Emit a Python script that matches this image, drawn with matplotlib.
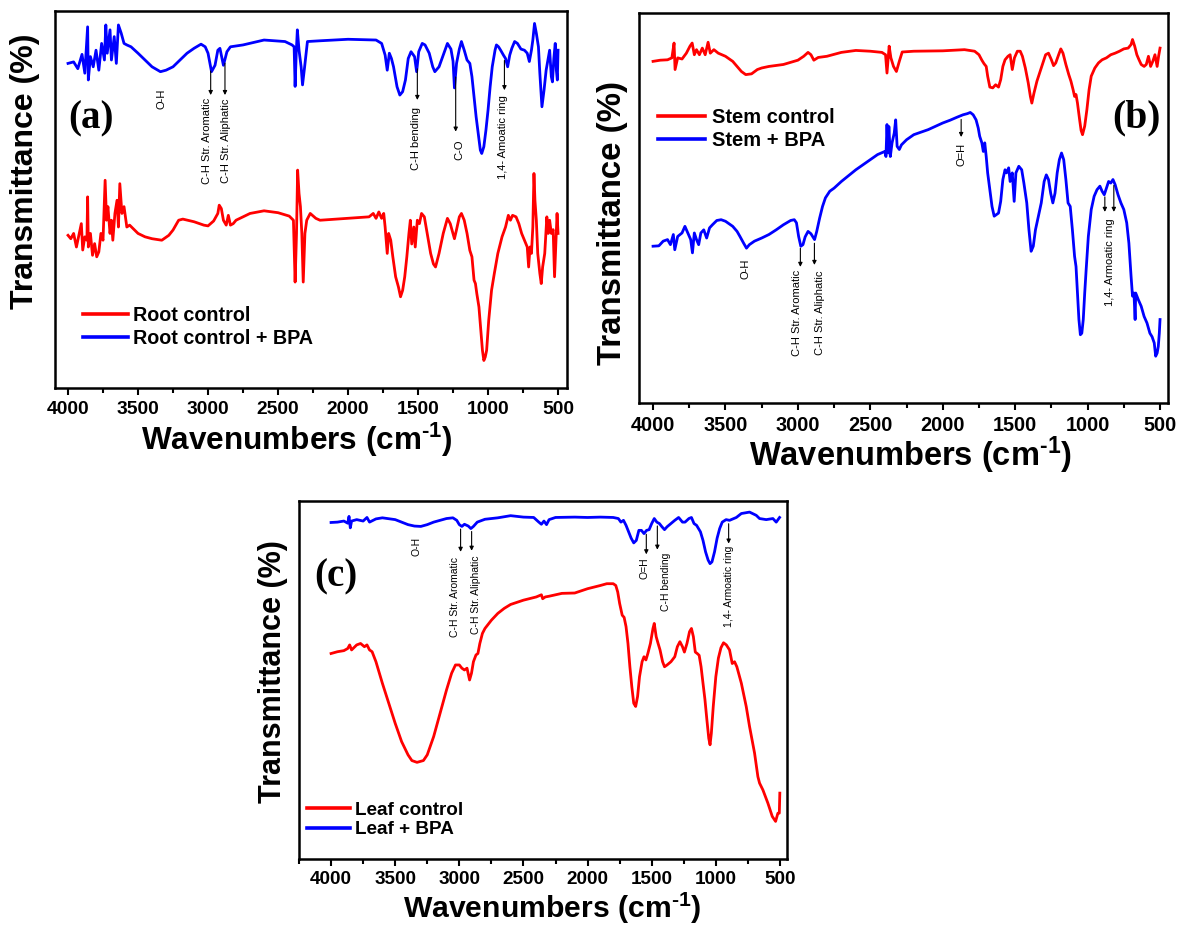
import numpy as np
import matplotlib
matplotlib.use("Agg")
import matplotlib.pyplot as plt
from matplotlib.ticker import MultipleLocator

plt.rcParams['font.family'] = ['Liberation Sans', 'DejaVu Sans']
plt.rcParams['mathtext.fontset'] = 'custom'
plt.rcParams['mathtext.rm'] = 'Liberation Sans:bold'
plt.rcParams['mathtext.it'] = 'Liberation Sans:bold'
plt.rcParams['mathtext.bf'] = 'Liberation Sans:bold'
plt.rcParams['mathtext.default'] = 'regular'

# ---------------- DATA (wavenumber cm-1, relative transmittance) ----------------
# (a) Root
root_bpa_wn = [4000, 3960, 3930, 3900, 3880, 3870, 3860, 3855, 3840, 3820, 3800, 3780, 3760, 3740,
               3730, 3720, 3700, 3690, 3670, 3655, 3640, 3620, 3600, 3580, 3550, 3500, 3450, 3400,
               3340, 3300, 3250, 3200, 3150, 3100, 3050, 3020, 3000, 2975, 2950, 2930, 2915, 2890,
               2865, 2840, 2750, 2600, 2450, 2400, 2385, 2378, 2370, 2362, 2350, 2335, 2325, 2310,
               2290, 2200, 2000, 1800, 1760, 1735, 1720, 1705, 1690, 1675, 1650, 1630, 1610, 1590,
               1570, 1550, 1525, 1510, 1495, 1470, 1450, 1420, 1395, 1380, 1350, 1320, 1290, 1265,
               1250, 1240, 1225, 1205, 1190, 1170, 1150, 1130, 1115, 1100, 1085, 1070, 1055, 1045,
               1030, 1015, 1000, 985, 970, 950, 940, 925, 910, 890, 875, 860, 845, 830, 810, 790,
               765, 740, 720, 705, 690, 680, 668, 655, 640, 630, 615, 600, 585, 570, 560, 548, 540,
               530, 520, 512, 505, 500]
root_bpa_T = [86.1, 86.5, 84.7, 88.5, 83.5, 89.6, 95.8, 81.7, 87.9, 85.2, 89.6, 84.3, 91.4, 87.0,
              96.3, 88.8, 95.0, 87.0, 93.2, 86.1, 96.3, 94.1, 91.4, 91.0, 90.5, 88.8, 87.0, 85.2,
              83.9, 84.3, 85.2, 87.0, 88.8, 90.1, 91.2, 90.5, 88.8, 83.9, 85.6, 89.6, 90.1, 85.6,
              89.2, 90.5, 91.0, 92.3, 91.9, 91.0, 90.5, 80.0, 88.8, 95.0, 89.6, 85.2, 80.4, 85.2,
              91.9, 92.1, 92.5, 92.3, 91.4, 88.3, 84.3, 88.8, 87.4, 85.2, 79.9, 77.7, 78.6, 81.7,
              87.4, 89.2, 87.9, 83.9, 89.2, 91.4, 91.0, 88.8, 85.2, 83.9, 85.2, 88.3, 91.4, 89.9,
              86.7, 79.6, 86.1, 89.9, 91.9, 89.6, 87.0, 86.1, 82.6, 77.3, 71.9, 67.5, 63.1, 62.2,
              64.0, 68.4, 73.7, 79.9, 85.2, 89.6, 91.0, 90.5, 89.6, 88.3, 87.4, 85.2, 88.3, 90.1,
              91.9, 91.4, 89.9, 89.6, 88.8, 86.6, 89.6, 92.3, 96.7, 94.1, 90.5, 83.5, 74.6, 79.0,
              84.3, 87.4, 89.6, 82.6, 81.2, 87.4, 91.4, 84.3, 81.7, 89.6]

root_ctrl_wn = [4000, 3980, 3960, 3940, 3920, 3905, 3895, 3880, 3865, 3860, 3855, 3840, 3825, 3810,
                3795, 3780, 3765, 3750, 3735, 3725, 3715, 3700, 3690, 3680, 3665, 3650, 3640, 3630,
                3615, 3600, 3580, 3560, 3500, 3450, 3400, 3330, 3280, 3250, 3210, 3180, 3100, 3030,
                3000, 2960, 2930, 2920, 2905, 2890, 2870, 2855, 2840, 2820, 2800, 2700, 2600, 2500,
                2420, 2390, 2378, 2368, 2360, 2350, 2340, 2330, 2320, 2308, 2295, 2270, 2230, 2200,
                2000, 1850, 1820, 1800, 1780, 1760, 1745, 1735, 1720, 1710, 1695, 1680, 1660, 1640,
                1625, 1610, 1595, 1580, 1565, 1555, 1545, 1530, 1520, 1505, 1490, 1475, 1455, 1430,
                1410, 1390, 1375, 1350, 1320, 1290, 1270, 1250, 1240, 1225, 1205, 1190, 1170, 1150,
                1130, 1115, 1100, 1090, 1080, 1065, 1050, 1040, 1030, 1020, 1010, 995, 975, 955, 930,
                900, 875, 855, 840, 825, 800, 780, 760, 740, 720, 710, 700, 690, 680, 672, 665, 655,
                645, 630, 620, 610, 595, 580, 570, 560, 548, 535, 525, 515, 507, 500]
root_ctrl_T = [40.5, 39.6, 41.0, 37.4, 41.0, 43.6, 36.6, 40.1, 39.2, 50.7, 37.4, 41.0, 35.2, 38.3,
               34.8, 36.1, 41.0, 39.2, 55.1, 44.5, 48.1, 41.0, 44.5, 39.2, 46.3, 49.8, 42.7, 54.2,
               46.3, 48.1, 42.7, 43.2, 41.0, 40.1, 39.6, 39.2, 40.5, 41.9, 44.5, 44.8, 44.1, 43.2,
               43.0, 44.3, 46.3, 48.5, 47.6, 44.5, 43.2, 45.8, 43.2, 43.6, 44.5, 46.3, 47.0, 46.5,
               45.6, 44.5, 28.1, 41.0, 57.8, 51.6, 48.1, 41.0, 28.1, 41.0, 44.5, 46.3, 45.0, 44.5,
               45.0, 45.4, 46.3, 45.0, 46.7, 45.0, 46.3, 42.7, 35.7, 41.0, 39.2, 34.8, 29.5, 26.8,
               24.2, 25.9, 29.5, 34.8, 41.0, 44.5, 38.2, 42.7, 37.4, 44.5, 43.6, 46.3, 45.4, 40.1,
               35.7, 32.9, 32.1, 35.7, 41.0, 45.0, 43.6, 41.0, 39.6, 42.0, 45.4, 46.3, 44.5, 41.0,
               36.5, 34.8, 28.6, 27.7, 25.0, 21.5, 14.4, 10.0, 7.3, 8.2, 10.0, 18.0, 25.9, 30.4, 35.7,
               40.1, 42.7, 45.8, 44.5, 45.8, 45.4, 43.6, 41.0, 39.2, 37.4, 32.1, 37.4, 35.7, 42.7,
               56.9, 49.8, 44.5, 35.7, 30.4, 27.7, 32.1, 35.7, 45.4, 41.0, 44.5, 41.0, 42.0, 29.5,
               39.2, 46.3, 41.0]

# (b) Stem
stem_ctrl_wn = [4000, 3950, 3900, 3870, 3855, 3848, 3830, 3800, 3770, 3745, 3730, 3715, 3700, 3680,
                3660, 3640, 3620, 3605, 3580, 3550, 3500, 3450, 3420, 3390, 3360, 3320, 3280, 3250,
                3200, 3100, 3000, 2960, 2930, 2910, 2890, 2860, 2800, 2700, 2600, 2500, 2420, 2395,
                2385, 2370, 2358, 2340, 2320, 2300, 2280, 2200, 2000, 1850, 1780, 1750, 1730, 1715,
                1700, 1690, 1675, 1655, 1635, 1615, 1600, 1585, 1570, 1550, 1535, 1520, 1505, 1485,
                1465, 1450, 1430, 1410, 1395, 1385, 1370, 1350, 1320, 1290, 1270, 1250, 1235, 1220,
                1200, 1185, 1170, 1150, 1130, 1115, 1100, 1090, 1080, 1070, 1055, 1045, 1035, 1020,
                1005, 990, 975, 950, 925, 900, 870, 840, 810, 780, 750, 720, 700, 690, 675, 660, 645,
                630, 610, 595, 580, 565, 550, 535, 520, 510, 500]
stem_ctrl_T = [87.6, 87.9, 88.0, 88.5, 92.3, 85.5, 88.5, 88.2, 89.7, 91.5, 92.3, 89.3, 90.6, 89.3,
               91.0, 89.3, 92.5, 89.7, 90.6, 89.7, 88.9, 87.6, 86.3, 85.0, 84.2, 84.4, 85.5, 85.9,
               86.3, 86.8, 87.9, 88.9, 89.9, 89.3, 87.9, 88.6, 88.9, 89.9, 90.4, 90.2, 89.9, 89.3,
               84.6, 91.5, 88.5, 86.3, 85.0, 87.6, 90.0, 90.2, 90.3, 90.6, 90.2, 89.3, 87.9, 87.0,
               86.3, 83.8, 81.0, 80.8, 81.6, 81.0, 82.9, 86.3, 88.0, 88.9, 89.3, 85.5, 88.5, 90.2,
               90.2, 88.9, 85.9, 82.1, 78.6, 76.9, 79.5, 82.5, 85.9, 89.3, 89.7, 88.0, 86.5, 87.2,
               89.3, 90.8, 89.7, 86.8, 84.2, 82.5, 80.3, 78.6, 79.1, 76.9, 72.6, 69.9, 68.8, 71.0,
               75.2, 80.3, 83.8, 85.9, 87.2, 88.0, 88.5, 89.3, 89.7, 90.2, 90.8, 91.0, 91.9, 93.2,
               91.5, 89.3, 88.0, 86.8, 86.3, 86.8, 88.9, 86.3, 87.6, 89.3, 86.3, 88.9, 91.0]

stem_bpa_wn = [4000, 3960, 3930, 3900, 3880, 3860, 3850, 3830, 3800, 3780, 3760, 3740, 3728, 3715,
               3700, 3685, 3670, 3650, 3630, 3610, 3590, 3560, 3530, 3500, 3450, 3420, 3400, 3375,
               3355, 3335, 3300, 3250, 3200, 3150, 3100, 3050, 3025, 3010, 2995, 2980, 2965, 2950,
               2930, 2910, 2885, 2870, 2850, 2830, 2810, 2780, 2750, 2700, 2650, 2600, 2550, 2500,
               2450, 2400, 2392, 2385, 2378, 2372, 2362, 2350, 2335, 2325, 2315, 2300, 2285, 2250,
               2200, 2100, 2000, 1950, 1900, 1860, 1830, 1810, 1790, 1770, 1755, 1745, 1730, 1720,
               1710, 1700, 1690, 1675, 1660, 1645, 1630, 1615, 1600, 1585, 1570, 1560, 1545, 1535,
               1520, 1507, 1495, 1475, 1455, 1440, 1420, 1405, 1390, 1375, 1360, 1340, 1320, 1300,
               1285, 1270, 1255, 1240, 1225, 1210, 1195, 1180, 1165, 1150, 1135, 1120, 1105, 1090,
               1080, 1070, 1060, 1050, 1040, 1030, 1020, 1010, 995, 975, 955, 935, 915, 900, 885,
               870, 855, 840, 825, 810, 790, 770, 750, 730, 715, 700, 690, 680, 672, 668, 650, 630,
               610, 590, 570, 555, 540, 530, 520, 512, 505, 500]
stem_bpa_T = [40.2, 40.3, 41.5, 41.9, 40.6, 43.2, 39.3, 42.7, 43.6, 45.3, 43.6, 41.9, 38.5, 43.6,
              41.9, 40.6, 43.6, 44.4, 42.3, 44.9, 45.7, 46.8, 47.0, 46.6, 45.3, 44.0, 42.7, 41.0,
              39.7, 40.6, 41.5, 42.3, 43.2, 44.4, 45.7, 46.8, 47.0, 46.2, 42.7, 40.2, 40.6, 42.6,
              44.0, 43.4, 41.9, 44.0, 47.4, 50.4, 52.6, 54.3, 55.1, 56.8, 58.3, 59.8, 61.1, 62.4,
              63.7, 64.5, 63.2, 71.4, 64.1, 70.9, 63.2, 66.7, 69.2, 72.6, 65.8, 65.0, 66.2, 67.5,
              68.8, 70.1, 71.8, 72.5, 73.3, 73.9, 74.2, 74.5, 73.9, 72.6, 70.5, 68.4, 66.7, 64.5,
              66.7, 63.2, 59.0, 54.7, 50.4, 47.9, 48.3, 48.7, 51.7, 57.3, 59.8, 59.0, 60.3, 56.8,
              59.0, 51.7, 59.0, 60.7, 59.8, 56.4, 51.3, 44.4, 38.9, 40.2, 44.4, 47.9, 51.3, 56.8,
              58.5, 57.3, 53.8, 51.3, 53.8, 59.0, 62.4, 64.1, 62.4, 57.3, 51.3, 50.4, 44.4, 37.6,
              35.0, 28.2, 21.4, 17.5, 17.9, 21.4, 28.2, 34.2, 42.7, 49.6, 53.0, 54.7, 55.6, 54.3,
              53.4, 55.1, 56.8, 56.4, 57.3, 56.0, 53.4, 51.3, 49.6, 46.2, 41.0, 32.5, 27.4, 28.2,
              21.4, 28.2, 26.5, 24.8, 22.2, 20.5, 17.9, 17.0, 15.4, 12.0, 12.8, 14.5, 17.9, 21.4]

# (c) Leaf
leaf_bpa_wn = [4000, 3950, 3900, 3870, 3860, 3850, 3840, 3800, 3750, 3720, 3700, 3650, 3600, 3500,
               3450, 3400, 3350, 3300, 3250, 3200, 3100, 3050, 3020, 3000, 2980, 2960, 2930, 2910,
               2890, 2860, 2800, 2700, 2600, 2500, 2420, 2380, 2360, 2340, 2320, 2300, 2250, 2100,
               2000, 1900, 1800, 1760, 1740, 1720, 1700, 1680, 1660, 1640, 1620, 1600, 1580, 1560,
               1540, 1520, 1500, 1480, 1460, 1440, 1420, 1400, 1380, 1350, 1320, 1290, 1260, 1240,
               1210, 1190, 1170, 1150, 1120, 1100, 1080, 1060, 1045, 1030, 1010, 990, 970, 950,
               920, 893, 840, 801, 737, 685, 659, 607, 555, 529, 503]
leaf_bpa_T = [94.0, 94.1, 94.4, 93.8, 95.7, 92.5, 94.4, 94.8, 94.4, 95.4, 94.1, 95.0, 95.3, 94.8,
              94.1, 93.4, 93.0, 92.9, 93.4, 94.1, 95.1, 95.3, 94.6, 93.4, 92.9, 93.5, 93.0, 92.3,
              92.9, 94.1, 94.9, 95.3, 95.9, 95.5, 95.4, 94.1, 93.5, 94.4, 93.4, 94.8, 95.4, 95.5,
              95.4, 95.5, 95.4, 95.1, 94.1, 94.6, 93.2, 91.4, 89.6, 88.3, 89.0, 91.8, 91.8, 90.9,
              91.8, 92.0, 93.7, 95.1, 94.1, 93.7, 92.8, 92.0, 92.8, 93.7, 94.6, 95.4, 94.1, 94.1,
              95.1, 95.4, 93.7, 93.2, 91.4, 89.0, 85.8, 83.5, 82.5, 83.0, 85.8, 89.6, 92.3, 94.1,
              94.8, 94.6, 95.4, 96.5, 96.9, 96.0, 95.1, 94.8, 95.1, 94.1, 95.4]

leaf_ctrl_wn = [4000, 3950, 3900, 3870, 3855, 3840, 3800, 3770, 3740, 3720, 3700, 3680, 3650, 3600,
                3550, 3500, 3450, 3400, 3370, 3330, 3280, 3250, 3200, 3150, 3100, 3060, 3030, 3000,
                2980, 2960, 2940, 2920, 2905, 2890, 2870, 2855, 2840, 2820, 2800, 2750, 2700, 2650,
                2600, 2500, 2400, 2360, 2350, 2330, 2300, 2200, 2100, 2000, 1900, 1850, 1800, 1780,
                1765, 1750, 1730, 1715, 1700, 1685, 1670, 1655, 1640, 1625, 1610, 1595, 1575, 1560,
                1545, 1530, 1510, 1490, 1480, 1465, 1450, 1435, 1415, 1400, 1380, 1350, 1320, 1300,
                1280, 1260, 1245, 1225, 1205, 1190, 1175, 1160, 1145, 1130, 1115, 1100, 1085, 1070,
                1055, 1045, 1035, 1020, 1000, 980, 960, 940, 918, 893, 872, 854, 836, 801, 763, 737,
                698, 672, 659, 633, 594, 560, 534, 516, 505, 501]
leaf_ctrl_T = [57.4, 57.9, 58.2, 58.8, 59.8, 58.4, 59.8, 60.2, 59.3, 59.8, 58.4, 57.9, 55.1, 49.1,
               43.5, 37.9, 32.8, 29.1, 27.5, 27.0, 27.5, 29.1, 34.2, 40.7, 47.2, 51.9, 54.2, 54.2,
               53.3, 52.8, 53.3, 50.0, 51.9, 55.1, 57.0, 57.4, 60.2, 63.0, 64.4, 66.7, 68.6, 70.0,
               71.1, 72.3, 73.2, 73.8, 72.7, 73.2, 73.4, 74.2, 74.3, 75.5, 76.4, 76.9, 76.9, 76.4,
               74.6, 71.4, 68.1, 67.5, 64.9, 60.2, 53.7, 48.1, 43.5, 42.6, 45.4, 50.9, 55.1, 56.5,
               55.6, 57.4, 60.2, 64.4, 65.8, 62.1, 60.2, 58.4, 55.1, 53.7, 54.2, 55.1, 56.5, 59.3,
               60.7, 59.3, 57.8, 60.2, 63.5, 64.4, 62.1, 57.8, 57.4, 56.9, 53.7, 49.1, 44.6, 39.0,
               33.7, 31.9, 35.1, 42.6, 50.9, 56.1, 59.0, 60.4, 59.8, 58.4, 54.6, 55.1, 53.7, 49.1,
               42.6, 37.0, 29.6, 23.0, 21.2, 19.3, 15.6, 11.9, 10.5, 12.8, 12.8, 18.4]

tick_values = [4000, 3500, 3000, 2500, 2000, 1500, 1000, 500]
tick_labels = ['4000', '3500', '3000', '2500', '2000', '1500', '1000', '500']

RED = '#ff0000'
BLUE = '#0000ff'
LW = 2.0
W, H = 1178, 926
XLABEL = r'Wavenumbers (cm$^{\text{-1}}$)'

fig = plt.figure(figsize=(W / 100, H / 100), dpi=100)


def px_axes(l, t, r, b):
    return fig.add_axes([l / W, 1 - b / H, (r - l) / W, (b - t) / H])


def style_axes(ax, xlim, tick_fs):
    ax.set_xlim(*xlim)
    ax.set_ylim(0, 100)
    ax.set_xticks(tick_values)
    ax.set_xticklabels(tick_labels, fontsize=tick_fs, fontweight='bold')
    ax.xaxis.set_minor_locator(MultipleLocator(250))
    ax.tick_params(axis='x', which='major', direction='out', length=5, width=1.5, pad=4)
    ax.tick_params(axis='x', which='minor', direction='out', length=3.5, width=1.5)
    ax.set_yticks([])
    for s in ax.spines.values():
        s.set_linewidth(1.8)


def annotate(ax, wn, T, label, x_arrow, y_head, x_text, y_text, fs, gap=1.0, arrow=True):
    if arrow:
        y0 = np.interp(x_arrow, wn[::-1], T[::-1]) - gap
        ax.annotate('', xy=(x_arrow, y_head), xytext=(x_arrow, y0),
                    arrowprops=dict(arrowstyle='-|>', color='black', lw=0.8,
                                    mutation_scale=6, shrinkA=0, shrinkB=0))
    if label:
        ax.text(x_text, y_text, label, rotation=90, ha='center', va='top', fontsize=fs,
                color='black')


# ---------------- (a) ----------------
ax = px_axes(55, 11, 567, 388)
style_axes(ax, (4093, 436), 13.9)
ax.plot(root_ctrl_wn, root_ctrl_T, color=RED, lw=LW, label='Root control')
ax.plot(root_bpa_wn, root_bpa_T, color=BLUE, lw=LW, label='Root control + BPA')
wa = np.array(root_bpa_wn, float); ta = np.array(root_bpa_T, float)
fa = 8.0
annotate(ax, wa, ta, 'O-H', 3329, None, 3329, 79.5, fa, arrow=False)
annotate(ax, wa, ta, 'C-H Str. Aromatic', 2981, 77.7, 3009, 76.9, fa)
annotate(ax, wa, ta, 'C-H Str. Aliphatic', 2879, 77.7, 2871, 76.9, fa)
annotate(ax, wa, ta, 'C-H bending', 1505, 76.4, 1517, 74.6, fa)
annotate(ax, wa, ta, 'C-O', 1231, 68.0, 1207, 65.8, fa)
annotate(ax, wa, ta, '1,4- Amoatic ring', 883, 79.0, 891, 77.7, fa)
ax.text(0.070, 0.714, '(a)', transform=ax.transAxes, ha='center', va='center',
        fontsize=28, fontweight='bold', family='Liberation Serif')
leg = ax.legend(loc='center left', bbox_to_anchor=(0.0547, 0.162), frameon=False,
                borderpad=0, borderaxespad=0, handlelength=2.28, handletextpad=0.25,
                labelspacing=0.17, prop=dict(size=14.2, weight='bold'))
for h in leg.get_lines():
    h.set_linewidth(2.6)
fig.text(25 / W, 1 - 171 / H, 'Transmittance (%)', rotation=90, ha='center', va='center',
         fontsize=23, fontweight='bold')
fig.text(297 / W, 1 - 440 / H, XLABEL, ha='center', va='center',
         fontsize=22.7, fontweight='bold')

# ---------------- (b) ----------------
ax = px_axes(639, 13, 1168, 403)
style_axes(ax, (4097, 445), 14.3)
ax.plot(stem_ctrl_wn, stem_ctrl_T, color=RED, lw=LW, label='Stem control')
ax.plot(stem_bpa_wn, stem_bpa_T, color=BLUE, lw=LW, label='Stem + BPA')
wb = np.array(stem_bpa_wn, float); tb = np.array(stem_bpa_T, float)
fb = 8.0
annotate(ax, wb, tb, 'O-H', 3363, None, 3363, 37.1, fb, arrow=False)
annotate(ax, wb, tb, 'C-H Str. Aromatic', 2983, 34.9, 3006, 34.1, fb)
annotate(ax, wb, tb, 'C-H Str. Aliphatic', 2886, 35.4, 2845, 34.1, fb)
annotate(ax, wb, tb, 'O=H', 1873, 68.2, 1873, 66.6, fb)
annotate(ax, wb, tb, '', 881, 49.0, 881, 49.0, fb)
annotate(ax, wb, tb, '1,4- Armoatic ring', 819, 49.0, 847, 47.3, fb)
ax.text(0.940, 0.731, '(b)', transform=ax.transAxes, ha='center', va='center',
        fontsize=28.5, fontweight='bold', family='Liberation Serif')
leg = ax.legend(loc='center left', bbox_to_anchor=(0.036, 0.7026), frameon=False,
                borderpad=0, borderaxespad=0, handlelength=2.35, handletextpad=0.35,
                labelspacing=0.17, prop=dict(size=14.5, weight='bold'))
for h in leg.get_lines():
    h.set_linewidth(2.6)
fig.text(613 / W, 1 - 223 / H, 'Transmittance (%)', rotation=90, ha='center', va='center',
         fontsize=23.8, fontweight='bold')
fig.text(910 / W, 1 - 455 / H, XLABEL, ha='center', va='center',
         fontsize=23.5, fontweight='bold')

# ---------------- (c) ----------------
ax = px_axes(299, 501, 787, 859)
style_axes(ax, (4250, 445), 13.6)
ax.plot(leaf_ctrl_wn, leaf_ctrl_T, color=RED, lw=LW, label='Leaf control')
ax.plot(leaf_bpa_wn, leaf_bpa_T, color=BLUE, lw=LW, label='Leaf + BPA')
wc = np.array(leaf_bpa_wn, float); tc = np.array(leaf_bpa_T, float)
fc = 7.5
annotate(ax, wc, tc, 'O-H', 3333, None, 3333, 90.0, fc, arrow=False)
annotate(ax, wc, tc, 'C-H Str. Aromatic', 2990, 85.8, 3034, 84.4, fc)
annotate(ax, wc, tc, 'C-H Str. Aliphatic', 2904, 86.1, 2873, 84.9, fc)
annotate(ax, wc, tc, 'O=H', 1542, 85.1, 1555, 84.2, fc)
annotate(ax, wc, tc, 'C-H bending', 1456, 86.4, 1386, 85.5, fc)
annotate(ax, wc, tc, '1,4- Armoatic ring', 900, 88.1, 900, 87.6, fc)
ax.text(0.076, 0.788, '(c)', transform=ax.transAxes, ha='center', va='center',
        fontsize=28, fontweight='bold', family='Liberation Serif')
leg = ax.legend(loc='center left', bbox_to_anchor=(0.0164, 0.109), frameon=False,
                borderpad=0, borderaxespad=0, handlelength=2.27, handletextpad=0.26,
                labelspacing=0.12, prop=dict(size=13.6, weight='bold'))
for h in leg.get_lines():
    h.set_linewidth(2.6)
fig.text(273 / W, 1 - 672 / H, 'Transmittance (%)', rotation=90, ha='center', va='center',
         fontsize=22, fontweight='bold')
fig.text(552 / W, 1 - 908 / H, XLABEL, ha='center', va='center',
         fontsize=21.7, fontweight='bold')

fig.savefig('out.png', dpi=100)
